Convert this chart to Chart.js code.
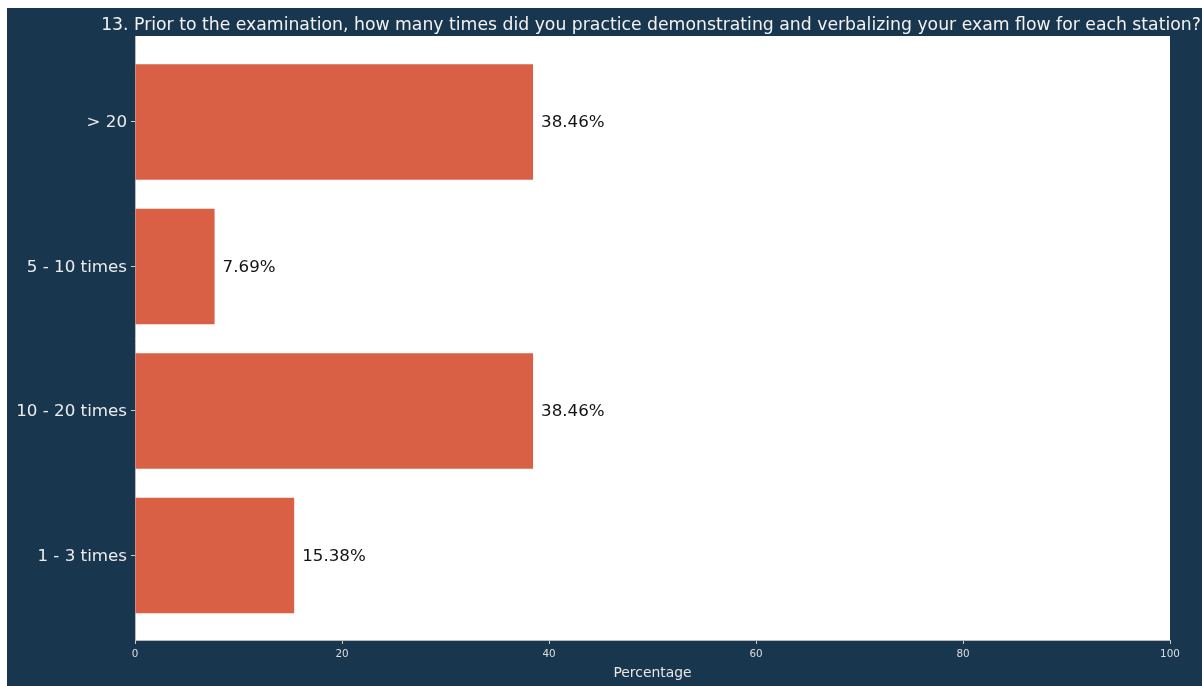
<!DOCTYPE html>
<html>
<head>
<meta charset="utf-8">
<style>
  html, body { margin: 0; padding: 0; background: #ffffff; }
  canvas { display: block; }
</style>
<script src="https://cdn.jsdelivr.net/npm/chart.js@4/dist/chart.umd.min.js"></script>
</head>
<body>
<canvas id="chart" width="1202" height="686"></canvas>
<script>
// Survey question 13: practice frequency, bottom-to-top order
const titleText = '13. Prior to the examination, how many times did you practice demonstrating and verbalizing your exam flow for each station?';
const categories = ['1 - 3 times', '10 - 20 times', '5 - 10 times', '> 20'];
const percentages = [15.38, 38.46, 7.69, 38.46];
const xTicks = [0, 20, 40, 60, 80, 100];

const NAVY = '#19364f';
const BAR = '#d96045';
const FONT = 'DejaVu Sans';

// Page background, navy frame and white plotting area
const backdrop = {
  id: 'backdrop',
  beforeDraw(chart) {
    const { ctx, chartArea: a, width, height } = chart;
    ctx.save();
    ctx.fillStyle = '#ffffff';
    ctx.fillRect(0, 0, width, height);
    ctx.fillStyle = NAVY;
    ctx.fillRect(7, 8, width - 7, height - 8);
    ctx.fillStyle = '#ffffff';
    ctx.fillRect(a.left, a.top, a.right - a.left, a.bottom - a.top);
    ctx.restore();
  }
};

// Heading above the plot and percentage labels at the bar ends
const annotations = {
  id: 'annotations',
  afterDatasetsDraw(chart) {
    const { ctx, chartArea: a } = chart;
    const xs = chart.scales.x;
    const meta = chart.getDatasetMeta(0);
    ctx.save();
    ctx.font = '17.25px "' + FONT + '"';
    ctx.fillStyle = '#f2f2f2';
    ctx.textAlign = 'center';
    ctx.textBaseline = 'alphabetic';
    ctx.fillText(titleText, (a.left + a.right) / 2 - 1.5, 30);

    ctx.font = '16.7px "' + FONT + '"';
    ctx.fillStyle = '#141414';
    ctx.textAlign = 'left';
    ctx.textBaseline = 'middle';
    meta.data.forEach((bar, i) => {
      const v = percentages[i];
      ctx.fillText(v.toFixed(2) + '%', xs.getPixelForValue(v) + 8, bar.y + 1);
    });
    ctx.restore();
  }
};

new Chart(document.getElementById('chart'), {
  type: 'bar',
  data: {
    datasets: [{
      data: percentages.map((v, i) => ({ x: v, y: i })),
      backgroundColor: BAR,
      borderWidth: 0,
      barPercentage: 0.8,
      categoryPercentage: 1.0
    }]
  },
  options: {
    indexAxis: 'y',
    responsive: false,
    animation: false,
    devicePixelRatio: 1,
    layout: { padding: { left: 0, top: 36, right: 32, bottom: 0 } },
    plugins: {
      legend: { display: false },
      tooltip: { enabled: false },
      title: { display: false }
    },
    scales: {
      x: {
        type: 'linear',
        position: 'bottom',
        min: 0,
        max: 100,
        offset: false,
        afterBuildTicks(axis) { axis.ticks = xTicks.map(v => ({ value: v })); },
        afterFit(axis) { axis.height = 46; },
        ticks: {
          color: '#dcdcdc',
          font: { family: FONT, size: 10.4 },
          padding: 4,
          maxRotation: 0
        },
        grid: {
          offset: false,
          drawOnChartArea: false,
          drawTicks: true,
          tickLength: 4,
          color: '#c8ccd0'
        },
        border: { display: true, color: '#b8bcc0', width: 1 },
        title: {
          display: true,
          text: 'Percentage',
          color: '#e6e6e6',
          font: { family: FONT, size: 13.9 },
          padding: { top: 0, bottom: 4 }
        }
      },
      y: {
        type: 'linear',
        position: 'left',
        min: -0.585,
        max: 3.595,
        offset: false,
        afterBuildTicks(axis) { axis.ticks = categories.map((c, i) => ({ value: i })); },
        afterFit(axis) { axis.width = 135; },
        ticks: {
          color: '#ececec',
          font: { family: FONT, size: 16.7 },
          padding: 4,
          labelOffset: 1,
          callback: (v) => categories[v]
        },
        grid: {
          offset: false,
          drawOnChartArea: false,
          drawTicks: true,
          tickLength: 4,
          color: '#c8ccd0'
        },
        border: { display: true, color: '#b8bcc0', width: 1 }
      }
    }
  },
  plugins: [backdrop, annotations]
});
</script>
</body>
</html>
